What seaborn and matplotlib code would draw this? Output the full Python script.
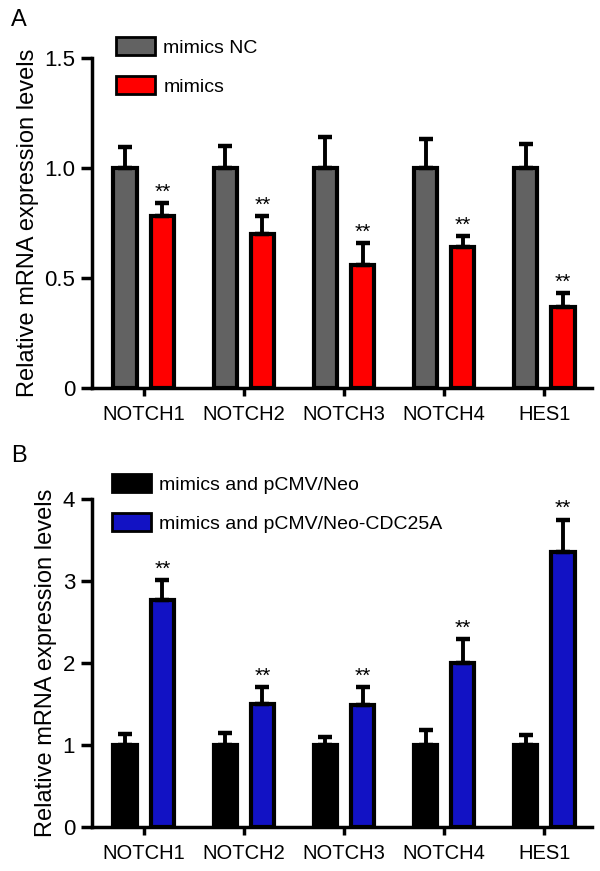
import numpy as np
import pandas as pd
import matplotlib
matplotlib.use("Agg")
import matplotlib.pyplot as plt
from matplotlib.patches import Patch
import seaborn as sns

# ---- data ----
genes = ["NOTCH1", "NOTCH2", "NOTCH3", "NOTCH4", "HES1"]

groups_a = ["mimics NC", "mimics"]
nc_a = [1.0, 1.0, 1.0, 1.0, 1.0]
nc_a_err = [0.095, 0.10, 0.14, 0.13, 0.11]
mim_a = [0.78, 0.70, 0.56, 0.64, 0.37]
mim_a_err = [0.06, 0.08, 0.10, 0.05, 0.06]

groups_b = ["mimics and pCMV/Neo", "mimics and pCMV/Neo-CDC25A"]
neo_b = [1.0, 1.0, 1.0, 1.0, 1.0]
neo_b_err = [0.14, 0.15, 0.10, 0.18, 0.12]
cdc_b = [2.77, 1.50, 1.49, 2.00, 3.36]
cdc_b_err = [0.24, 0.21, 0.22, 0.29, 0.39]

colors_a = ["#626262", "#ff0000"]
colors_b = ["#000000", "#1212c4"]

sns.set_style("ticks", {"axes.edgecolor": "black", "text.color": "black",
                        "xtick.color": "black", "ytick.color": "black",
                        "axes.labelcolor": "black"})
plt.rcParams["font.family"] = ["Liberation Sans", "DejaVu Sans"]


def make_df(groups, v1, v2):
    rows = []
    for g, a, b in zip(genes, v1, v2):
        rows.append({"gene": g, "group": groups[0], "value": a})
        rows.append({"gene": g, "group": groups[1], "value": b})
    return pd.DataFrame(rows)


def draw_panel(ax, groups, v1, e1, v2, e2, colors, ymax, yticks, ylabels, leg_anchor):
    df = make_df(groups, v1, v2)
    sns.barplot(data=df, x="gene", y="value", hue="group", hue_order=groups,
                palette=colors, saturation=1, edgecolor="black", linewidth=3,
                width=0.74, gap=0.36, errorbar=None, legend=False, ax=ax)

    # error bars (upper only) at bar centres
    bars = sorted(ax.patches, key=lambda p: p.get_x())
    vals = [v for pair in zip(v1, v2) for v in pair]
    errs = [e for pair in zip(e1, e2) for e in pair]
    xs = [b.get_x() + b.get_width() / 2 for b in bars]
    ax.errorbar(xs, vals, yerr=[np.zeros(len(errs)), errs], fmt="none",
                ecolor="black", elinewidth=2.8, capsize=5, capthick=3.2, zorder=1)

    # significance stars on the second group
    for i in range(1, len(xs), 2):
        ax.text(xs[i], vals[i] + errs[i] + ymax * 0.004, "**", ha="center",
                va="bottom", fontsize=15)

    ax.set_xlim(-0.52, 4.48)
    ax.set_ylim(0, ymax)
    ax.set_yticks(yticks)
    ax.set_yticklabels(ylabels)
    ax.set_xlabel("")
    ax.set_ylabel("Relative mRNA expression levels", fontsize=17, labelpad=4)
    sns.despine(ax=ax)
    for s in ["left", "bottom"]:
        ax.spines[s].set_linewidth(2.5)
    ax.tick_params(axis="y", length=8, width=2.5, labelsize=16, pad=4)
    ax.tick_params(axis="x", length=6, width=2.5, labelsize=14.5, pad=6)

    handles = [Patch(facecolor=c, edgecolor="black", linewidth=2, label=g)
               for c, g in zip(colors, groups)]
    ax.legend(handles=handles, loc="upper left", bbox_to_anchor=leg_anchor,
              frameon=False, fontsize=14, handlelength=2.0, handleheight=1.0,
              handletextpad=0.45, labelspacing=1.0, borderpad=0, borderaxespad=0)


fig = plt.figure(figsize=(6, 8.71), dpi=100)
ax_a = fig.add_axes([0.153, 0.5545, 0.834, 0.379])
ax_b = fig.add_axes([0.153, 0.0505, 0.834, 0.3765])

draw_panel(ax_a, groups_a, nc_a, nc_a_err, mim_a, mim_a_err, colors_a, 1.5,
           [0, 0.5, 1.0, 1.5], ["0", "0.5", "1.0", "1.5"], (0.048, 1.062))
draw_panel(ax_b, groups_b, neo_b, neo_b_err, cdc_b, cdc_b_err, colors_b, 4,
           [0, 1, 2, 3, 4], ["0", "1", "2", "3", "4"], (0.04, 1.075))

fig.text(0.018, 0.99, "A", fontsize=17, va="top")
fig.text(0.018, 0.489, "B", fontsize=17, va="top")

fig.savefig("out.png", dpi=100)
